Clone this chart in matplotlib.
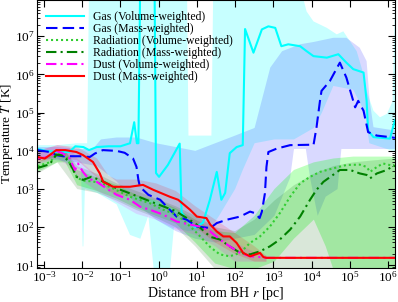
import numpy as np
import matplotlib
matplotlib.use("Agg")
import matplotlib.pyplot as plt

plt.rcParams["font.family"] = ["Liberation Serif", "DejaVu Serif"]
plt.rcParams["mathtext.fontset"] = "stix"

# all values are log10(r / pc) and log10(T / K)

# gas, volume-weighted (cyan, solid)
gv_r = [-3.17, -2.95, -2.65, -2.34, -2.18, -1.97, -1.82, -1.62, -1.31, -1.0, -0.75, -0.64, -0.57, -0.53, -0.48, -0.11, -0.07, 0.01, 0.24, 0.55, 0.60, 0.74, 0.96, 1.16, 1.34, 1.52, 1.64, 1.74, 1.86, 2.04, 2.2, 2.26, 2.48, 2.70, 2.87, 3.05, 3.21, 3.39, 3.70, 3.87, 4.05, 4.40, 4.70, 4.91, 5.09, 5.36, 5.44, 5.48, 5.62, 6.05, 6.18]
gv_T = [4.05, 4.0, 3.97, 3.97, 4.12, 4.1, 4.02, 4.1, 4.12, 4.12, 4.2, 4.75, 4.2, 4.2, 8.7, 8.7, 3.42, 3.32, 3.63, 4.19, 2.38, 2.2, 2.0, 2.12, 2.72, 3.45, 2.72, 2.9, 3.94, 4.1, 4.15, 7.19, 6.57, 7.18, 7.26, 7.22, 6.74, 6.79, 6.74, 6.61, 6.48, 6.44, 6.53, 6.31, 6.14, 6.05, 5.31, 4.53, 4.36, 4.32, 4.8]

# gas, mass-weighted (blue, dashed)
gm_r = [-3.17, -2.85, -2.68, -2.50, -2.06, -1.80, -1.67, -1.46, -1.10, -0.89, -0.67, -0.58, -0.53, -0.49, -0.27, 0.04, 0.29, 0.47, 0.73, 1.0, 1.35, 1.52, 1.79, 2.13, 2.39, 2.52, 2.64, 2.70, 2.78, 2.82, 2.87, 3.09, 3.44, 3.96, 4.05, 4.13, 4.22, 4.26, 4.48, 4.74, 4.91, 5.14, 5.22, 5.36, 5.48, 5.71, 6.05, 6.18]
gm_T = [4.02, 3.97, 3.89, 3.86, 3.86, 3.84, 3.93, 4.02, 4.0, 3.95, 3.8, 3.58, 3.24, 3.06, 2.85, 2.72, 2.46, 2.28, 2.2, 2.02, 1.98, 2.11, 2.2, 2.28, 2.41, 2.37, 2.24, 2.41, 2.89, 3.58, 3.97, 4.06, 4.15, 4.16, 4.15, 4.62, 5.31, 5.57, 5.83, 6.31, 5.92, 5.14, 5.31, 5.05, 4.49, 4.4, 4.36, 4.34]

# radiation, volume-weighted (lime, dotted)
rv_r = [-3.17, -2.85, -2.65, -2.44, -2.29, -2.13, -1.98, -1.72, -1.51, -1.31, -1.10, -0.75, -0.23, 0.12, 0.47, 0.73, 1.0, 1.35, 1.60, 1.86, 2.13, 2.39, 2.65, 2.91, 3.17, 3.44, 3.70, 3.96, 4.22, 4.56, 4.91, 5.26, 5.44, 5.53, 5.71, 5.87, 6.17]
rv_T = [3.6, 3.7, 3.92, 3.9, 3.6, 3.3, 3.22, 3.2, 3.15, 3.07, 2.97, 2.8, 2.63, 2.46, 2.33, 2.11, 1.85, 1.48, 1.29, 1.24, 1.33, 1.59, 1.76, 2.02, 2.37, 2.8, 3.15, 3.32, 3.45, 3.54, 3.63, 3.64, 3.58, 3.45, 3.58, 3.67, 3.6]

# radiation, mass-weighted (dark green, dash-dot)
rm_r = [-3.17, -2.85, -2.68, -2.50, -2.34, -2.23, -2.15, -1.98, -1.76, -1.54, -1.10, -0.58, -0.07, 0.45, 0.96, 1.35, 1.60, 1.86, 2.13, 2.39, 2.65, 2.91, 3.17, 3.44, 3.70, 3.96, 4.13, 4.31, 4.56, 4.74, 5.01, 5.26, 5.44, 5.53, 5.71, 5.97, 6.17]
rm_T = [3.55, 3.65, 3.9, 3.88, 3.7, 3.5, 3.32, 3.24, 3.32, 3.24, 3.02, 2.82, 2.62, 2.42, 2.1, 1.75, 1.68, 1.5, 1.33, 1.29, 1.37, 1.5, 1.68, 1.94, 2.28, 2.72, 2.98, 3.19, 3.37, 3.5, 3.5, 3.41, 3.37, 3.28, 3.41, 3.5, 3.63]

# dust, volume-weighted (magenta, dash-dot)
dv_r = [-3.17, -2.85, -2.68, -2.50, -2.33, -2.19, -2.11, -1.98, -1.84, -1.62, -1.37, -1.10, -0.75, -0.49, -0.23, 0.12, 0.47, 0.82, 1.08, 1.35, 1.60, 1.86, 2.13, 2.39, 2.65, 2.77, 6.2]
dv_T = [3.8, 3.84, 4.0, 3.93, 3.8, 3.5, 3.67, 3.45, 3.28, 3.19, 3.02, 2.85, 2.72, 2.54, 2.46, 2.33, 2.15, 2.07, 2.02, 1.89, 1.68, 1.5, 1.33, 1.24, 1.22, 1.2, 1.2]

# dust, mass-weighted (red, solid)
dm_r = [-3.17, -2.98, -2.85, -2.68, -2.44, -2.15, -1.98, -1.72, -1.54, -1.45, -1.19, -0.75, -0.41, -0.14, 0.29, 0.51, 0.82, 1.0, 1.25, 1.35, 1.52, 1.69, 1.86, 2.04, 2.21, 2.39, 2.51, 2.65, 2.74, 2.82, 6.2]
dm_T = [3.84, 3.8, 3.89, 4.02, 4.02, 3.97, 3.89, 3.71, 3.41, 3.19, 3.06, 3.06, 3.11, 2.98, 2.8, 2.72, 2.46, 2.28, 2.24, 2.07, 1.89, 1.76, 1.76, 1.59, 1.33, 1.24, 1.28, 1.33, 1.22, 1.2, 1.2]

# shaded spreads: upper edge (r, T) and lower edge (r, T) per series
gv_hi_r = [-3.17, -2.65, -2.13, -1.87, -1.82, -1.1, -0.07, 0.74, 0.78, 1.38, 1.43, 3.65, 3.87, 4.05, 4.40, 4.66, 4.83, 5.18, 5.36, 5.44, 5.62, 5.79, 5.97, 6.12, 6.2]
gv_hi_T = [4.15, 4.15, 4.2, 4.2, 8.5, 8.5, 8.5, 8.5, 4.4, 4.4, 8.5, 8.5, 7.65, 7.39, 7.22, 7.05, 7.13, 6.61, 6.0, 5.57, 5.05, 4.88, 4.97, 5.3, 8.5]
gv_lo_r = [-3.17, -2.65, -2.13, -2.03, -1.99, -1.97, -1.93, -1.61, -1.10, -0.75, -0.48, -0.27, -0.12, 0.29, 0.40, 0.76, 1.07, 1.38, 1.58, 2.0, 2.2, 2.51, 3.03, 3.54, 4.06, 4.27, 4.57, 5.09, 5.40, 5.51, 6.12, 6.2]
gv_lo_T = [3.85, 3.8, 3.55, 3.5, 1.5, 1.5, 3.0, 2.9, 2.6, 1.8, 1.7, 2.3, 0.8, 0.8, 2.0, 1.9, 1.9, 2.0, 2.3, 3.0, 3.5, 4.2, 4.3, 4.3, 4.6, 5.0, 5.7, 5.6, 5.0, 4.2, 4.0, 4.0]

gm_hi_r = [-3.17, -2.65, -2.13, -1.72, -1.51, -1.10, -0.58, -0.07, 0.45, 0.96, 1.48, 2.0, 2.51, 2.92, 3.23, 3.70, 4.05, 4.57, 4.91, 5.26, 5.44, 5.52, 5.62, 6.2]
gm_hi_T = [4.1, 4.1, 4.05, 4.05, 4.3, 4.35, 4.35, 4.2, 4.1, 4.0, 4.2, 4.4, 4.6, 6.18, 6.61, 6.79, 6.85, 6.96, 6.96, 6.7, 6.35, 5.31, 4.62, 4.53]
gm_lo_r = [-3.17, -2.65, -2.13, -1.61, -1.10, -0.58, -0.07, 0.45, 0.96, 1.48, 2.0, 2.51, 3.03, 3.44, 3.54, 3.85, 3.96, 4.16, 4.37, 4.68, 4.78, 6.2]
gm_lo_T = [3.85, 3.75, 3.7, 3.6, 3.2, 2.6, 2.2, 1.9, 1.7, 1.6, 1.7, 1.8, 2.3, 3.3, 4.05, 4.05, 3.3, 2.3, 2.8, 3.0, 4.05, 4.05]

rv_hi_r = [-3.17, -2.65, -2.44, -2.13, -1.61, -1.10, -0.58, -0.07, 0.45, 0.96, 1.48, 2.0, 2.51, 3.03, 3.54, 4.06, 4.57, 5.09, 5.61, 6.2]
rv_hi_T = [3.75, 4.0, 4.0, 3.5, 3.3, 3.1, 2.85, 2.7, 2.5, 2.2, 1.9, 1.85, 2.3, 3.0, 3.5, 3.7, 3.8, 3.85, 3.85, 3.85]
rv_lo_r = [-3.17, -2.65, -2.44, -2.13, -1.61, -1.10, -0.58, -0.07, 0.45, 0.96, 1.48, 2.0, 2.51, 3.03, 3.54, 4.06, 4.37, 4.57, 6.2]
rv_lo_T = [3.45, 3.7, 3.7, 3.1, 2.95, 2.75, 2.5, 2.3, 2.1, 1.6, 1.05, 0.9, 0.9, 1.1, 1.7, 2.2, 1.5, 0.9, 0.9]

rm_hi_r = [-3.17, -2.65, -2.44, -2.13, -1.61, -1.10, -0.58, -0.07, 0.45, 0.96, 1.48, 2.0, 2.51, 3.03, 3.54, 4.06, 4.57, 5.09, 5.61, 6.2]
rm_hi_T = [3.7, 4.0, 4.0, 3.6, 3.4, 3.15, 2.95, 2.75, 2.55, 2.3, 2.0, 1.9, 2.2, 2.7, 3.1, 3.4, 3.6, 3.7, 3.75, 3.8]
rm_lo_r = [-3.17, -2.65, -2.13, -1.61, -1.10, -0.58, -0.07, 0.45, 0.96, 1.48, 6.2]
rm_lo_T = [3.4, 3.7, 3.0, 2.9, 2.7, 2.45, 2.25, 2.0, 1.5, 0.9, 0.9]

dv_hi_r = [-3.17, -2.65, -2.34, -2.13, -1.61, -1.10, -0.58, -0.07, 0.45, 0.96, 1.48, 2.0, 2.51, 2.82]
dv_hi_T = [4.0, 4.15, 4.1, 3.8, 3.35, 3.0, 2.75, 2.6, 2.4, 2.2, 2.0, 1.6, 1.35, 1.25]
dv_lo_r = [-3.17, -2.65, -2.34, -2.13, -1.61, -1.10, -0.58, -0.07, 0.45, 0.96, 1.48, 2.0, 2.82]
dv_lo_T = [3.65, 3.8, 3.6, 3.3, 2.95, 2.65, 2.35, 2.2, 1.95, 1.8, 1.5, 1.1, 1.1]

dm_hi_r = [-3.17, -2.65, -2.13, -1.61, -1.31, -1.10, -0.58, -0.07, 0.45, 0.96, 1.48, 2.0, 2.51, 2.82]
dm_hi_T = [4.0, 4.15, 4.1, 3.8, 3.35, 3.25, 3.25, 3.15, 2.95, 2.55, 2.2, 1.85, 1.5, 1.25]
dm_lo_r = [-3.17, -2.65, -2.13, -1.61, -1.31, -1.10, -0.58, -0.07, 0.45, 0.96, 1.48, 2.0, 2.51, 2.82]
dm_lo_T = [3.7, 3.85, 3.75, 3.3, 2.95, 2.85, 2.8, 2.7, 2.45, 2.0, 1.6, 1.3, 1.1, 1.1]

labels = ["Gas (Volume-weighted)", "Gas (Mass-weighted)",
          "Radiation (Volume-weighted)", "Radiation (Mass-weighted)",
          "Dust (Volume-weighted)", "Dust (Mass-weighted)"]


def band(ax, hr, ht, lr, lt, color, alpha):
    xs = np.concatenate([hr, lr[::-1]])
    ys = np.concatenate([ht, lt[::-1]])
    ax.fill(10.0 ** xs, 10.0 ** ys, color=color, alpha=alpha, lw=0)


fig = plt.figure(figsize=(3.98, 3.02), dpi=100)
ax = fig.add_axes([0.0942, 0.1136, 0.898, 0.8864])

band(ax, np.array(gv_hi_r), np.array(gv_hi_T), np.array(gv_lo_r), np.array(gv_lo_T), "cyan", 0.22)
band(ax, np.array(gm_hi_r), np.array(gm_hi_T), np.array(gm_lo_r), np.array(gm_lo_T), "blue", 0.15)
band(ax, np.array(rv_hi_r), np.array(rv_hi_T), np.array(rv_lo_r), np.array(rv_lo_T), "lime", 0.25)
band(ax, np.array(rm_hi_r), np.array(rm_hi_T), np.array(rm_lo_r), np.array(rm_lo_T), "darkgreen", 0.15)
band(ax, np.array(dv_hi_r), np.array(dv_hi_T), np.array(dv_lo_r), np.array(dv_lo_T), "magenta", 0.15)
band(ax, np.array(dm_hi_r), np.array(dm_hi_T), np.array(dm_lo_r), np.array(dm_lo_T), "red", 0.15)

p = lambda a: 10.0 ** np.array(a)
ax.plot(p(gv_r), p(gv_T), color="cyan", lw=1.5, label=labels[0])
ax.plot(p(gm_r), p(gm_T), color="blue", lw=1.5, dashes=(5.5, 2.5), label=labels[1])
ax.plot(p(rv_r), p(rv_T), color="limegreen", lw=1.5, dashes=(1, 1.4), label=labels[2])
ax.plot(p(rm_r), p(rm_T), color="green", lw=1.5, dashes=(5, 2, 1, 2), label=labels[3])
ax.plot(p(dv_r), p(dv_T), color="magenta", lw=1.5, dashes=(5, 2, 1, 2), label=labels[4])
ax.plot(p(dm_r), p(dm_T), color="red", lw=1.5, label=labels[5])

ax.set_xscale("log")
ax.set_yscale("log")
ax.set_xlim(10 ** -3.17, 10 ** 6.18)
ax.set_ylim(8.75, 8.9e7)
ax.set_xticks([10.0 ** k for k in range(-3, 7)])
ax.set_yticks([10.0 ** k for k in range(1, 8)])
ax.tick_params(which="both", direction="in", top=True, right=True, labelsize=9.5, pad=2)
ax.tick_params(axis="x", which="both", pad=1.5)
ax.tick_params(which="major", length=5, width=0.8)
ax.tick_params(which="minor", length=2.5, width=0.6)
ax.set_xlabel(r"Distance from BH $r$ [pc]", fontsize=10)
ax.set_ylabel(r"Temperature $T$ [K]", fontsize=9.5)
ax.xaxis.set_label_coords(0.5, -0.062)
ax.yaxis.set_label_coords(-0.062, 0.5)

ax.legend(loc="upper left", frameon=False, fontsize=8.5, handlelength=3.2,
          labelspacing=0.0, borderaxespad=0.3, bbox_to_anchor=(0.0, 0.99))

fig.savefig("out.png", dpi=100)
